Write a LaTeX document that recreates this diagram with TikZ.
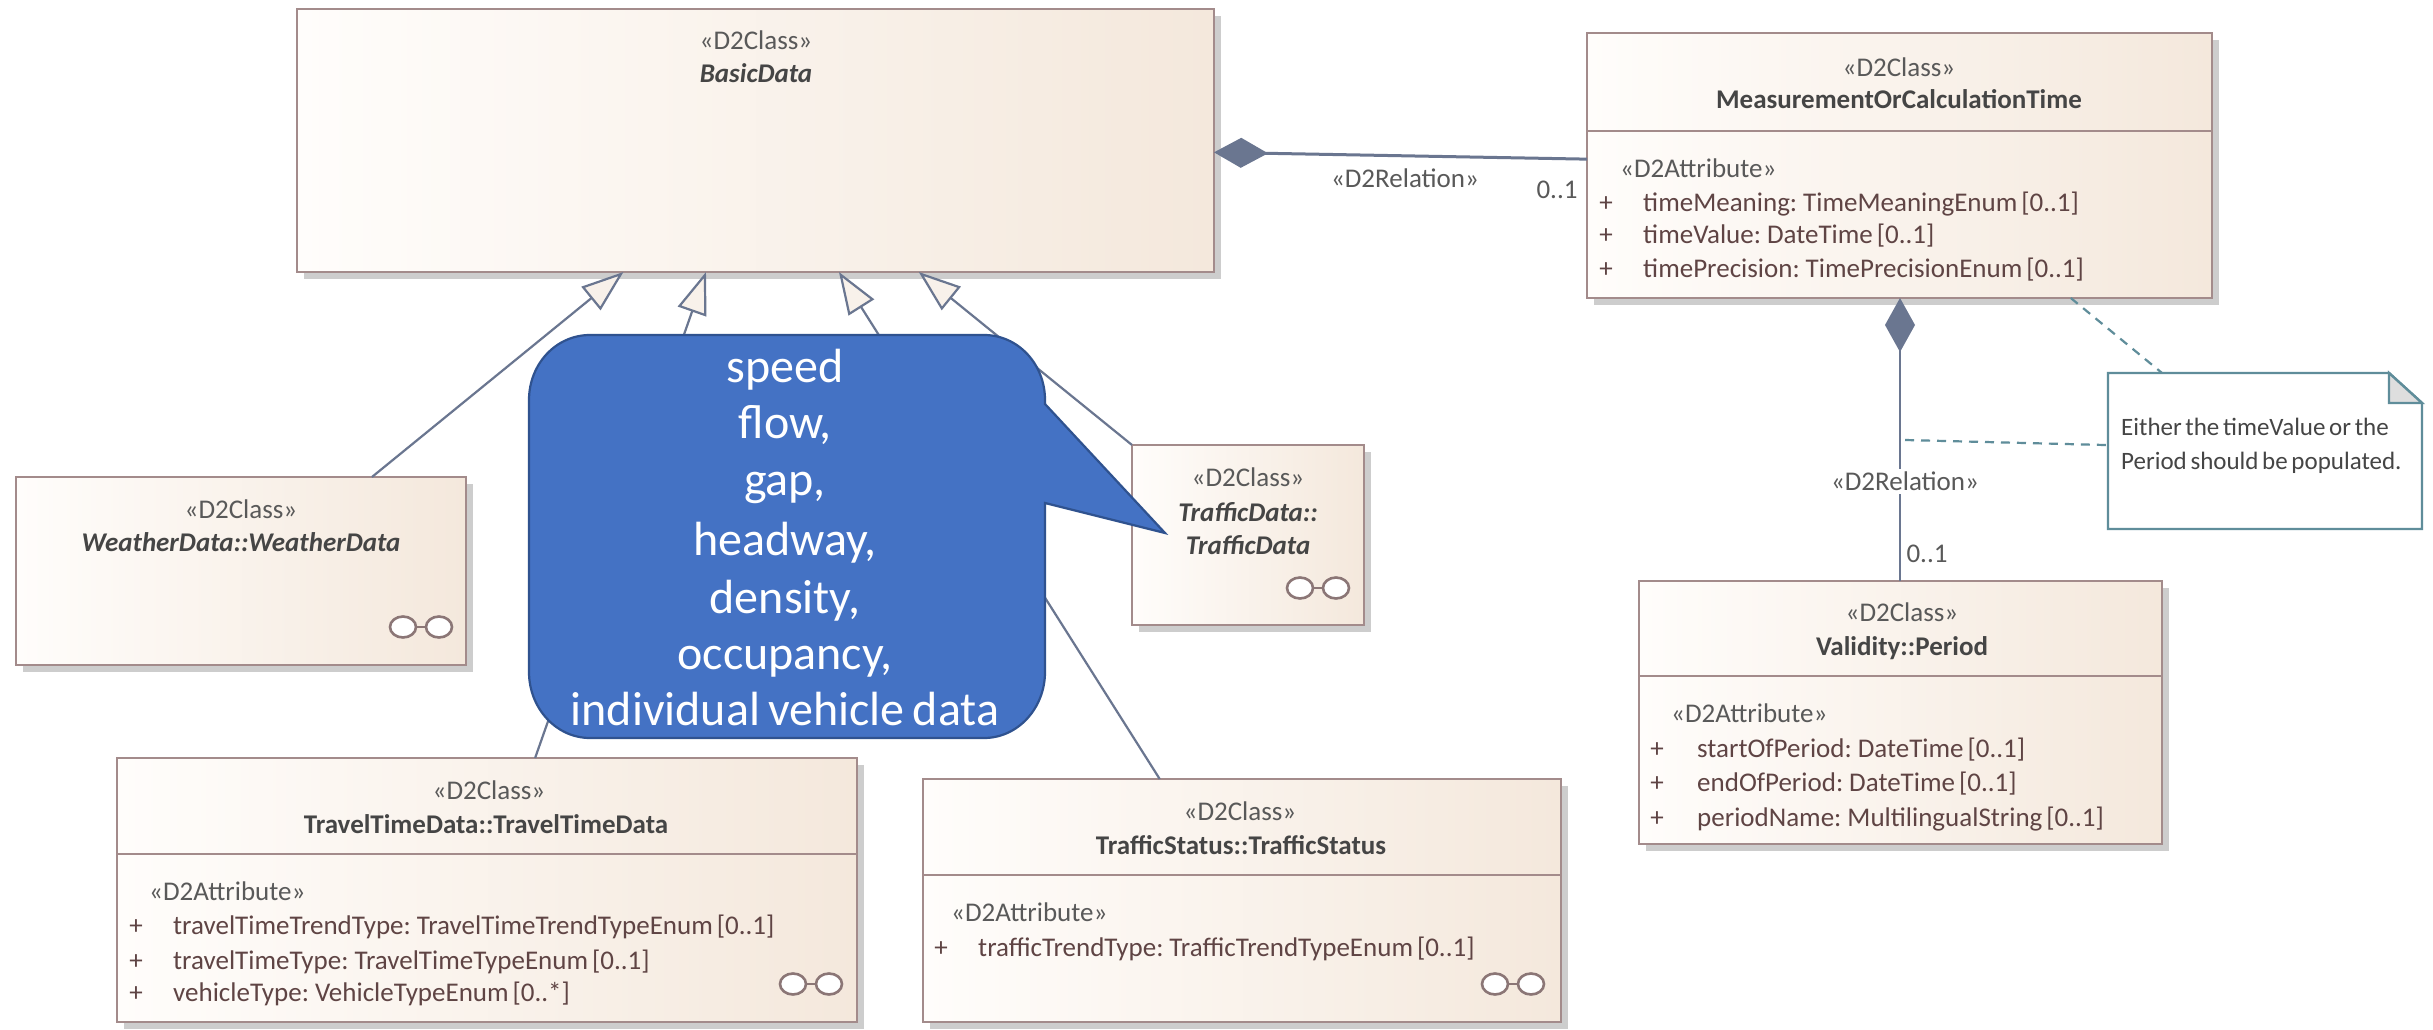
\documentclass[tikz,border=0pt]{standalone}
\usepackage{fontspec}
\setmainfont{Carlito}
\usetikzlibrary{arrows.meta,calc,fit}
\definecolor{edgec}{HTML}{6A7690}
\definecolor{boxline}{HTML}{A38B8B}
\definecolor{shadowc}{HTML}{CDCDCD}
\definecolor{gradl}{HTML}{FFFDFB}
\definecolor{gradr}{HTML}{F4E8DC}
\definecolor{stereoc}{HTML}{595959}
\definecolor{namec}{HTML}{454545}
\definecolor{attrc}{HTML}{5F4444}
\definecolor{notec}{HTML}{5F8D9A}
\definecolor{bluefill}{HTML}{4472C4}
\definecolor{blueline}{HTML}{2F528F}
\newcommand{\umlfont}{\fontsize{27}{32}\selectfont\spaceskip=.65\fontdimen2\font\relax}
\newcommand{\notefont}{\fontsize{25}{30}\selectfont\spaceskip=.65\fontdimen2\font\relax}
\newcommand{\callfont}{\fontsize{48}{56}\selectfont\spaceskip=.75\fontdimen2\font\relax}
\tikzset{
  classbox/.style={inner sep=0pt,outer sep=0pt,draw=boxline,line width=2.2pt,left color=gradl,right color=gradr,shading angle=90},
  divider/.style={draw=boxline,line width=2.2pt},
  txt/.style={inner sep=0pt,anchor=base,yshift=-1.5pt,font=\umlfont},
  stereo/.style={txt,text=stereoc},
  cname/.style={txt,text=namec,font=\umlfont\bfseries},
  iname/.style={txt,text=namec,font=\umlfont\bfseries\itshape},
  attr/.style={txt,anchor=base west,text=attrc},
  sterl/.style={txt,anchor=base west,text=stereoc},
  plusm/.style={txt,text=attrc},
  notetxt/.style={inner sep=0pt,anchor=base west,yshift=-1pt,text=namec,font=\notefont},
  gener/.style={draw=edgec,line width=2.2pt,-{Triangle[length=42pt,width=30pt,fill=gradr!60!white,line width=2.2pt]}},
  compo/.style={draw=edgec,line width=2.2pt,-{Diamond[length=54pt,width=30pt,fill=edgec]}},
  notelink/.style={draw=notec,line width=2.2pt,dash pattern=on 9pt off 7pt},
  calltxt/.style={inner sep=0pt,anchor=base,yshift=-2pt,text=white,font=\callfont},
  icon/.style={draw=boxline!85!black,line width=2.6pt,fill=white},
}
\newcommand{\umlbox}[5]{%
  \fill[shadowc] (#2+7,#3+7) rectangle (#4+7,#5+7);
  \node[classbox,fit={(#2,#3)(#4,#5)}] (#1) {};
}
\newcommand{\linkicon}[2]{%
  \draw[icon] (#1-18,#2) -- (#1+18,#2);
  \draw[icon] (#1-18,#2) ellipse [x radius=13,y radius=10.5];
  \draw[icon] (#1+18,#2) ellipse [x radius=13,y radius=10.5];
}
\begin{document}
\begin{tikzpicture}[x=1pt,y=-1pt]
\useasboundingbox (0,0) rectangle (2433,1030);
\fill[white] (0,0) rectangle (2433,1030);

% class boxes
\umlbox{basic}{297}{9}{1214}{272}
\umlbox{weather}{16}{477}{466}{665}
\umlbox{trafficd}{1132}{445}{1364}{625}
\umlbox{travel}{117}{758}{857}{1022}
\umlbox{status}{923}{779}{1561}{1022}
\umlbox{meas}{1587}{33}{2212}{298}
\umlbox{period}{1639}{581}{2162}{844}

\draw[divider] (travel.west |- 0,854) -- (travel.east |- 0,854);
\draw[divider] (status.west |- 0,875) -- (status.east |- 0,875);
\draw[divider] (meas.west |- 0,131) -- (meas.east |- 0,131);
\draw[divider] (period.west |- 0,676) -- (period.east |- 0,676);

\linkicon{421}{627}
\linkicon{811}{984}
\linkicon{1513}{984}
\linkicon{1318}{588}

% BasicData
\node[stereo] (t1) at (756,48) {«D2Class»};
\node[iname] (t2) at (756,81) {BasicData};
% WeatherData
\node[stereo] (t3) at (241,517) {«D2Class»};
\node[iname] (t4) at (241,550) {WeatherData::WeatherData};
% TrafficData
\node[stereo] (t5) at (1248,485) {«D2Class»};
\node[iname] (t6) at (1248,520) {TrafficData::};
\node[iname] (t7) at (1248,553) {TrafficData};
% TravelTime
\node[stereo] (t8) at (489,798) {«D2Class»};
\node[cname] (t9) at (486,832) {TravelTimeData::TravelTimeData};
\node[sterl] (t10) at (149,899) {«D2Attribute»};
\node[plusm] (t11) at (136,933) {+};
\node[attr] (t12) at (173,933) {travelTimeTrendType: TravelTimeTrendTypeEnum [0..1]};
\node[plusm] (t13) at (136,968) {+};
\node[attr] (t14) at (173,968) {travelTimeType: TravelTimeTypeEnum [0..1]};
\node[plusm] (t15) at (136,1000) {+};
\node[attr] (t16) at (173,1000) {vehicleType: VehicleTypeEnum [0..*]};
% TrafficStatus
\node[stereo] (t17) at (1240,819) {«D2Class»};
\node[cname] (t18) at (1241,853) {TrafficStatus::TrafficStatus};
\node[sterl] (t19) at (951,920) {«D2Attribute»};
\node[plusm] (t20) at (941,955) {+};
\node[attr] (t21) at (978,955) {trafficTrendType: TrafficTrendTypeEnum [0..1]};
% Measurement
\node[stereo] (t22) at (1899,75) {«D2Class»};
\node[cname] (t23) at (1899,107) {MeasurementOrCalculationTime};
\node[sterl] (t24) at (1620,176) {«D2Attribute»};
\node[plusm] (t25) at (1606,210) {+};
\node[attr] (t26) at (1643,210) {timeMeaning: TimeMeaningEnum [0..1]};
\node[plusm] (t27) at (1606,242) {+};
\node[attr] (t28) at (1643,242) {timeValue: DateTime [0..1]};
\node[plusm] (t29) at (1606,276) {+};
\node[attr] (t30) at (1643,276) {timePrecision: TimePrecisionEnum [0..1]};
% Period
\node[stereo] (t31) at (1902,620) {«D2Class»};
\node[cname] (t32) at (1902,654) {Validity::Period};
\node[sterl] (t33) at (1671,721) {«D2Attribute»};
\node[plusm] (t34) at (1657,756) {+};
\node[attr] (t35) at (1697,756) {startOfPeriod: DateTime [0..1]};
\node[plusm] (t36) at (1657,790) {+};
\node[attr] (t37) at (1697,790) {endOfPeriod: DateTime [0..1]};
\node[plusm] (t38) at (1657,825) {+};
\node[attr] (t39) at (1697,825) {periodName: MultilingualString [0..1]};

% note
\node[inner sep=0pt,outer sep=0pt,fit={(2108,373)(2422,529)}] (note) {};
\coordinate (foldT) at (2389,373);
\coordinate (foldR) at (2422,403);
\coordinate (foldC) at (2389,403);

% generalisations
\draw[gener] ($(weather.north west)!0.791!(weather.north east)$) -- ($(basic.south west)!0.356!(basic.south east)$);
\draw[gener] ($(travel.north west)!0.565!(travel.north east)$) -- ($(basic.south west)!0.446!(basic.south east)$);
\draw[gener] ($(status.north west)!0.371!(status.north east)$) -- ($(basic.south west)!0.591!(basic.south east)$);
\draw[gener] (trafficd.north west) -- ($(basic.south west)!0.678!(basic.south east)$);

% compositions
\draw[compo,line width=3pt] ($(meas.north west)!0.476!(meas.south west)$) -- ($(basic.north east)!0.545!(basic.south east)$);
\draw[compo] (period.north -| 1900,0) -- (meas.south -| 1900,0);

% note links
\draw[notelink] ($(meas.south west)!0.774!(meas.south east)$) -- ($(note.north west)!0.172!(note.north east)$);
\coordinate (relmid) at (1905,440);
\draw[notelink] (relmid) -- ($(note.north west)!0.462!(note.south west)$);

\draw[draw=notec,fill=white,line width=2.4pt] (note.north west) -- (foldT) -- (foldR) -- (note.south east) -- (note.south west) -- cycle;
\draw[draw=notec,fill=black!13,line width=2.4pt] (foldT) -- (foldR) -- (foldC) -- cycle;
\node[notetxt] (n1) at (2121,434) {Either the timeValue or the};
\node[notetxt] (n2) at (2121,468) {Period should be populated.};

% connector labels
\node[stereo] (r1) at (1405,186) {«D2Relation»};
\node[stereo] (m1) at (1557,197) {0..1};
\node[stereo,fill=white,inner ysep=3pt,inner xsep=3pt,text depth=0pt] (r2) at (1905,489) {«D2Relation»};
\node[stereo] (m2) at (1927,561) {0..1};

% callout
\draw[fill=bluefill,draw=blueline,line width=2.2pt,line join=miter]
  (590,335) -- (984,335) .. controls (1018,335) and (1045,364) .. (1045,400)
  -- (1045,404) -- (1165,533) -- (1045,503) -- (1045,672)
  .. controls (1045,708) and (1018,738) .. (984,738) -- (590,738)
  .. controls (556,738) and (529,708) .. (529,672) -- (529,400)
  .. controls (529,364) and (556,335) .. (590,335) -- cycle;
\node[calltxt] (c1) at (785,380) {speed};
\node[calltxt] (c2) at (785,436) {flow,};
\node[calltxt] (c3) at (785,493) {gap,};
\node[calltxt] (c4) at (785,553) {headway,};
\node[calltxt] (c5) at (785,611) {density,};
\node[calltxt] (c6) at (785,667) {occupancy,};
\node[calltxt] (c7) at (785,723) {individual vehicle data};
\end{tikzpicture}
\end{document}
